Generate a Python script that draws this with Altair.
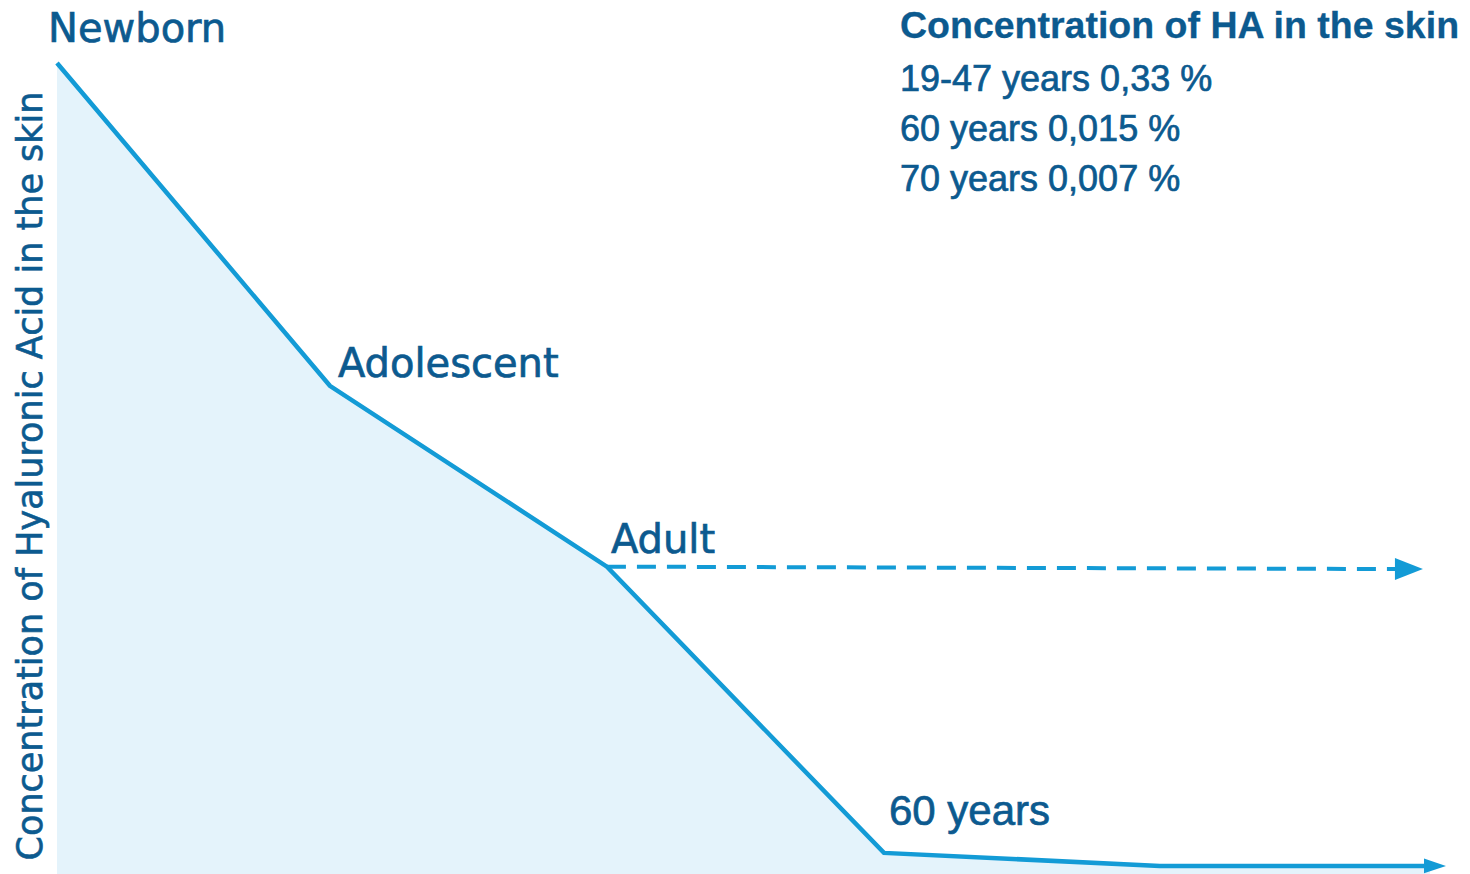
import altair as alt
import pandas as pd

# ---- data (relative units, no axis scale shown) ----
stages = ["Newborn", "Adolescent", "Adult", "60 years", "70 years", "end"]
stage_pos = [0, 0.983, 1.981, 2.979, 3.973, 4.946]
concentration = [100, 60.2, 37.9, 2.6, 1.0, 1.0]

proj_pos = [1.981, 4.84]
proj_conc = [37.9, 37.6]

head_dashed_pos = [4.870]
head_dashed_conc = [37.6]
head_solid_pos = [4.964]
head_solid_conc = [1.0]

y_title = "Concentration of Hyaluronic Acid in the skin"
info_title = "Concentration of HA in the skin"
info_lines = ["19-47 years 0,33 %", "60 years 0,015 %", "70 years 0,007 %"]

# ---- tables ----
curve = pd.DataFrame({"stage": stages, "pos": stage_pos, "conc": concentration})
proj = pd.DataFrame({"pos": proj_pos, "conc": proj_conc})
head_d = pd.DataFrame({"pos": head_dashed_pos, "conc": head_dashed_conc})
head_s = pd.DataFrame({"pos": head_solid_pos, "conc": head_solid_conc})

LINE = "#139bd6"
FILL = "#e4f3fb"
TEXT = "#0c5a8f"

xenc = alt.X("pos:Q", scale=alt.Scale(domain=[0, 5], nice=False, zero=False), axis=None)
yenc = alt.Y("conc:Q", scale=alt.Scale(domain=[0, 100], nice=False), axis=None)

base = alt.Chart(curve).encode(x=xenc, y=yenc)

area = base.mark_area(color=FILL, line=False, clip=False)
line = base.mark_line(color=LINE, strokeWidth=4.5, strokeJoin="miter")

dashed = alt.Chart(proj).mark_line(color=LINE, strokeWidth=4, strokeDash=[19, 11]).encode(x=xenc, y=yenc)

heads_d = alt.Chart(head_d).mark_point(
    shape="M-1,-0.79L1,0L-1,0.79Z", size=784, filled=True, opacity=1, color=LINE
).encode(x=xenc, y=yenc)
heads_s = alt.Chart(head_s).mark_point(
    shape="M-1,-0.68L1,0L-1,0.68Z", size=484, filled=True, opacity=1, color=LINE
).encode(x=xenc, y=yenc)

def stage_label(name, dx, dy, font, size):
    return base.transform_filter(alt.datum.stage == name).mark_text(
        align="left", baseline="alphabetic", dx=dx, dy=dy, font=font,
        fontSize=size, color=TEXT, stroke=TEXT, strokeWidth=0.7,
    ).encode(text="stage:N")

lbl_newborn = stage_label("Newborn", -9, -21, "DejaVu Sans", 40)
lbl_adol = stage_label("Adolescent", 8, -9, "DejaVu Sans", 40)
lbl_adult = stage_label("Adult", 4, -14, "DejaVu Sans", 40)
lbl_60 = stage_label("60 years", 5, -28, "Liberation Sans", 42)

# vertical axis title (no ticks or labels in the original)
ytitle = alt.Chart(pd.DataFrame({"t": [y_title]})).mark_text(
    align="center", baseline="alphabetic", angle=270, font="DejaVu Sans",
    fontSize=35, color=TEXT, stroke=TEXT, strokeWidth=0.6,
).encode(text="t:N", x=alt.value(-15), y=alt.value(413))

def info_text(txt, ypix, bold, size):
    return alt.Chart(pd.DataFrame({"t": [txt]})).mark_text(
        align="left", baseline="alphabetic", font="Liberation Sans",
        fontWeight="bold" if bold else "normal", fontSize=size, color=TEXT,
        stroke=TEXT, strokeWidth=0.3 if bold else 0.7,
    ).encode(text="t:N", x=alt.value(843), y=alt.value(ypix))

info_layers = [info_text(info_title, -25, True, 37.5)]
for k, txt in enumerate(info_lines):
    info_layers.append(info_text(txt, 28 + 50 * k, False, 36))

chart = alt.layer(
    area, line, dashed, heads_d, heads_s, ytitle,
    lbl_newborn, lbl_adol, lbl_adult, lbl_60, *info_layers
).properties(
    width=1388, height=811,
    padding={"left": 49, "top": 55, "right": 16, "bottom": 0},
    autosize=alt.AutoSizeParams(type="none"),
    background="white",
).configure_view(stroke=None)

chart.save("out.html", embed_options={"renderer": "svg", "actions": False})
